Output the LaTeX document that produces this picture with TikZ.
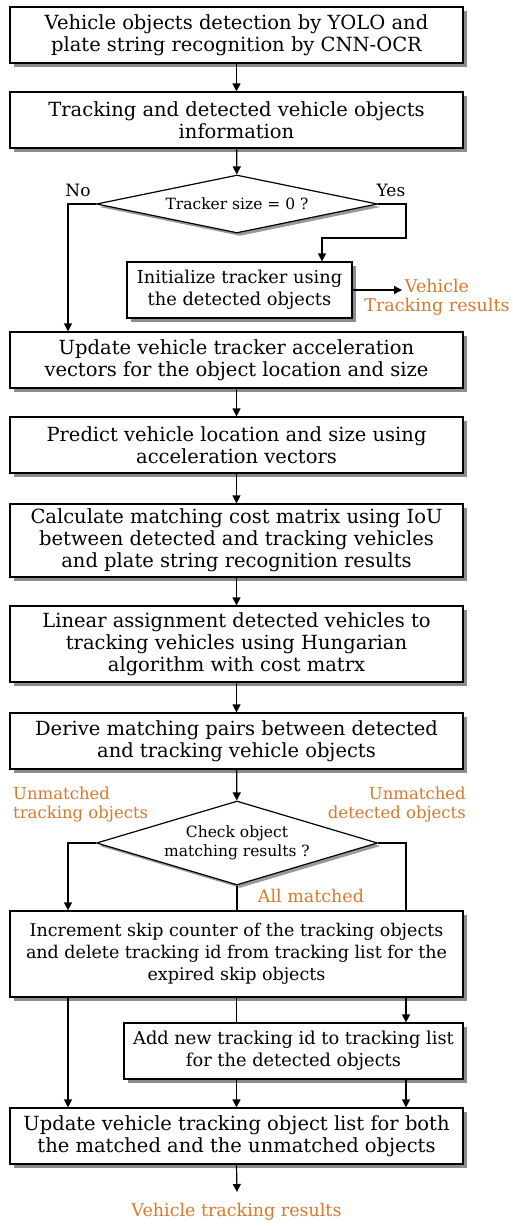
\documentclass[tikz,border=0pt]{standalone}
\usepackage{fontspec}
\setmainfont{DejaVu Serif}
\usetikzlibrary{shapes.geometric,arrows.meta,shadows}
\definecolor{orng}{HTML}{D9782D}
\tikzset{
  pbox/.style={draw=black, line width=1.2pt, fill=white, inner sep=0pt, align=center,
    font=\fontsize{19.5}{22}\selectfont,
    drop shadow={shadow xshift=4pt, shadow yshift=-4pt, fill=black!45, opacity=1}},
  dbox/.style={diamond, draw=black, line width=1.2pt, fill=white, inner sep=0pt, align=center,
    font=\fontsize{15.5}{19}\selectfont,
    drop shadow={shadow xshift=3pt, shadow yshift=-3pt, fill=black!40, opacity=1}},
  arr/.style={line width=1.2pt, -{Triangle[length=8pt,width=8pt]}},
  ln/.style={line width=1.2pt},
  otext/.style={text=orng, font=\fontsize{17.5}{19}\selectfont, inner sep=0pt},
  ltext/.style={font=\fontsize{17}{19}\selectfont, inner sep=0pt}
}
\begin{document}
\begin{tikzpicture}[x=1pt,y=-1pt]
\useasboundingbox (0,0) rectangle (512,1226);
% boxes
\node[pbox, minimum width=453pt, minimum height=56pt] (b1) at (236.5,35)
  {Vehicle objects detection by YOLO and\\plate string recognition by CNN-OCR};
\node[pbox, minimum width=453pt, minimum height=56pt] (b2) at (236.5,120)
  {Tracking and detected vehicle objects\\information};
\node[dbox, aspect=4.85, minimum width=281pt, minimum height=58pt] (d1) at (237,204)
  {Tracker size = 0 ?};
\node[pbox, font=\fontsize{17.8}{22}\selectfont, minimum width=225pt, minimum height=56pt] (init) at (239.5,290)
  {Initialize tracker using\\the detected objects};
\node[pbox, minimum width=453pt, minimum height=56pt] (b3) at (236.5,360)
  {Update vehicle tracker acceleration\\vectors for the object location and size};
\node[pbox, minimum width=453pt, minimum height=56pt] (b4) at (236.5,445)
  {Predict vehicle location and size using\\acceleration vectors};
\node[pbox, minimum width=453pt, minimum height=73pt] (b5) at (236.5,540.5)
  {Calculate matching cost matrix using IoU\\between detected and tracking vehicles\\and plate string recognition results};
\node[pbox, minimum width=453pt, minimum height=76pt] (b6) at (236.5,644)
  {Linear assignment detected vehicles to\\tracking vehicles using Hungarian\\algorithm with cost matrx};
\node[pbox, minimum width=453pt, minimum height=56pt] (b7) at (236.5,741)
  {Derive matching pairs between detected\\and tracking vehicle objects};
\node[dbox, aspect=3.35, minimum width=281pt, minimum height=84pt] (d2) at (237,843)
  {Check object\\matching results ?};
\node[pbox, font=\fontsize{17.5}{22}\selectfont, minimum width=453pt, minimum height=86pt] (b8) at (236.5,954)
  {Increment skip counter of the tracking objects\\and delete tracking id from tracking list for the\\expired skip objects};
\node[pbox, font=\fontsize{17.8}{22}\selectfont, minimum width=339pt, minimum height=56pt] (add) at (293.5,1051)
  {Add new tracking id to tracking list\\for the detected objects};
\node[pbox, minimum width=453pt, minimum height=56pt] (b9) at (236.5,1136)
  {Update vehicle tracking object list for both\\the matched and the unmatched objects};
% labels
\node[ltext] (no) at (78,190) {No};
\node[ltext] (yes) at (391,190) {Yes};
\node[otext, align=center] (vtr) at (437,297) {Vehicle\\Tracking results};
\node[otext, font=\fontsize{16.5}{19}\selectfont, align=left, anchor=north west] (ut) at (13,787) {Unmatched\\tracking objects};
\node[otext, font=\fontsize{16.5}{19}\selectfont, align=right, anchor=north east] (ud) at (466,787) {Unmatched\\detected objects};
\node[otext] (am) at (311,896) {All matched};
\node[otext] (res) at (236.5,1212) {Vehicle tracking results};
% coordinates
\coordinate (lx) at (68,0);
\coordinate (rx) at (406,0);
\coordinate (ytop) at (322,238);
\coordinate (vend) at (402,290);
\coordinate (rend) at (237,1192);
% connectors
\draw[arr] (b1) -- (b2);
\draw[arr] (b2) -- (d1);
\draw[arr] (d1.east) -| (rx |- ytop) -- (ytop) -- (ytop |- init.north);
\draw[arr] (d1.west) -| (lx |- b3.north);
\draw[arr] (init.east) -- (vend);
\draw[arr] (b3) -- (b4);
\draw[arr] (b4) -- (b5);
\draw[arr] (b5) -- (b6);
\draw[arr] (b6) -- (b7);
\draw[arr] (b7) -- (d2);
\draw[arr] (d2.west) -| (lx |- b8.north);
\draw[ln] (d2.east) -| (rx |- b8.north);
\draw[ln] (d2.south) -- (d2.south |- b8.north);
\draw[arr] (rx |- b8.south) -- (rx |- add.north);
\draw[ln] (b8.south) -- (b8.south |- add.north);
\draw[arr] (lx |- b8.south) -- (lx |- b9.north);
\draw[arr] (b8.south |- add.south) -- (b9.north);
\draw[arr] (rx |- add.south) -- (rx |- b9.north);
\draw[arr] (b9.south) -- (rend);
\end{tikzpicture}
\end{document}
